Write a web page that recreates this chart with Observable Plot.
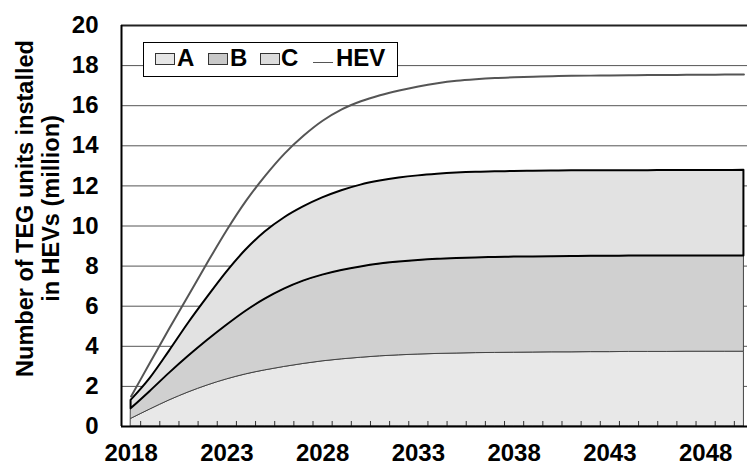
<!DOCTYPE html>
<html>
<head>
<meta charset="utf-8">
<script src="https://cdn.jsdelivr.net/npm/d3@7"></script>
<script src="https://cdn.jsdelivr.net/npm/@observablehq/plot@0.6"></script>
<style>
  html, body { margin: 0; padding: 0; background: #fff; overflow: hidden; }
  #wrap { position: relative; width: 747px; height: 466px; font-family: "Liberation Sans", Arial, sans-serif; font-weight: bold; }
  #legend { position: absolute; left: 143px; top: 42px; width: 255px; height: 35px; box-sizing: border-box; border: 1.5px solid #000; background: #fff; }
  .sw { position: absolute; top: 9.5px; width: 20px; height: 12px; box-sizing: border-box; border: 1px solid #333; }
  .lt { position: absolute; top: 3px; font-size: 24px; line-height: 24px; color: #000; white-space: nowrap; }
  .ln { position: absolute; top: 19px; width: 20px; height: 0; border-top: 1.5px solid #555; }
</style>
</head>
<body>
<div id="wrap">
  <div id="chart"></div>
  <div id="legend">
    <div class="sw" style="left:10.5px;background:#e6e6e6"></div><div class="lt" style="left:33px">A</div>
    <div class="sw" style="left:63.5px;background:#c8c8c8"></div><div class="lt" style="left:86px">B</div>
    <div class="sw" style="left:115.5px;background:#dcdcdc"></div><div class="lt" style="left:137px">C</div>
    <div class="ln" style="left:168.5px"></div><div class="lt" style="left:192px">HEV</div>
  </div>
</div>
<script>
const years = [2018, 2019, 2020, 2021, 2022, 2023, 2024, 2025, 2026, 2027, 2028,
  2029, 2030, 2031, 2032, 2033, 2034, 2035, 2036, 2037, 2038, 2039, 2040,
  2041, 2042, 2043, 2044, 2045, 2046, 2047, 2048, 2049, 2050];
// Upper boundary of each stacked band (cumulative, million units)
const seriesA = [0.38, 0.85, 1.3, 1.7, 2.05, 2.35, 2.6, 2.8, 2.97, 3.12, 3.25,
  3.35, 3.43, 3.5, 3.55, 3.59, 3.62, 3.64, 3.66, 3.67, 3.68, 3.69, 3.7,
  3.7, 3.71, 3.71, 3.72, 3.72, 3.72, 3.73, 3.73, 3.73, 3.73];
const seriesB = [0.88, 1.75, 2.65, 3.5, 4.3, 5.05, 5.75, 6.35, 6.85, 7.25, 7.55,
  7.78, 7.96, 8.1, 8.2, 8.28, 8.34, 8.38, 8.41, 8.43, 8.45, 8.46, 8.47,
  8.48, 8.49, 8.49, 8.5, 8.5, 8.5, 8.5, 8.5, 8.5, 8.5];
const seriesC = [1.3, 2.4, 3.75, 5.15, 6.45, 7.7, 8.8, 9.7, 10.4, 10.95, 11.4,
  11.76, 12.04, 12.24, 12.39, 12.5, 12.58, 12.64, 12.68, 12.7, 12.72, 12.73, 12.74,
  12.75, 12.75, 12.76, 12.76, 12.76, 12.77, 12.77, 12.77, 12.77, 12.78];
const seriesHEV = [1.5, 3.2, 4.9, 6.55, 8.2, 9.8, 11.25, 12.5, 13.6, 14.5, 15.25,
  15.82, 16.22, 16.52, 16.76, 16.96, 17.12, 17.24, 17.32, 17.38, 17.42, 17.45, 17.47,
  17.49, 17.5, 17.51, 17.52, 17.53, 17.53, 17.54, 17.54, 17.55, 17.55];
const yTicks = [0, 2, 4, 6, 8, 10, 12, 14, 16, 18, 20];
const xTickLabels = [2018, 2023, 2028, 2033, 2038, 2043, 2048];
const yTitle = "Number of TEG units installed\nin HEVs (million)";

const data = years.map((year, i) => ({year, a: seriesA[i], b: seriesB[i], c: seriesC[i], hev: seriesHEV[i]}));
const minorTicks = years.map(y => y + 0.5);
const curve = "monotone-x";

const chart = Plot.plot({
  width: 747,
  height: 466,
  marginLeft: 121,
  marginRight: 0,
  marginTop: 25,
  marginBottom: 40,
  x: {domain: [2017.5, 2050.5], range: [121, 753], axis: null},
  y: {domain: [0, 20], axis: null},
  style: {fontFamily: "'Liberation Sans', Arial, sans-serif", fontWeight: "bold", fontSize: "24px", color: "#000", background: "#fff", overflow: "hidden"},
  marks: [
    Plot.ruleY(yTicks.filter(v => v > 0 && v < 20), {stroke: "#555", strokeWidth: 1}),
    Plot.ruleY([20], {stroke: "#222", strokeWidth: 2}),
    Plot.area(data, {x1: "year", y1: 0, y2: "a", fill: "#e8e8e8", stroke: "#444", strokeWidth: 1, curve}),
    Plot.area(data, {x1: "year", y1: "a", y2: "b", fill: "#d0d0d0", stroke: "#444", strokeWidth: 1, curve}),
    Plot.area(data, {x1: "year", y1: "b", y2: "c", fill: "#e2e2e2", stroke: "#000", strokeWidth: 2, curve}),
    Plot.line(data, {x: "year", y: "hev", stroke: "#555", strokeWidth: 2, curve}),
    Plot.ruleX(minorTicks, {y1: 0, y2: 0.25, stroke: "#333", strokeWidth: 1}),
    Plot.ruleY([0], {stroke: "#000", strokeWidth: 2}),
    Plot.ruleX([2017.5], {y1: 0, y2: 20, stroke: "#000", strokeWidth: 2}),
    Plot.axisY(yTicks, {tickSize: 0, tickPadding: 23, label: null, tickFormat: d => String(d)}),
    Plot.axisX(xTickLabels, {tickSize: 0, tickPadding: 17, label: null, tickFormat: d => String(d)}),
    Plot.text([yTitle], {text: d => d, frameAnchor: "left", rotate: -90, dx: -84, dy: -17.5, lineHeight: 1.12, textAnchor: "middle", fontSize: 23.5, fontWeight: "bold", fill: "#000"})
  ]
});
document.getElementById("chart").appendChild(chart);
</script>
</body>
</html>
